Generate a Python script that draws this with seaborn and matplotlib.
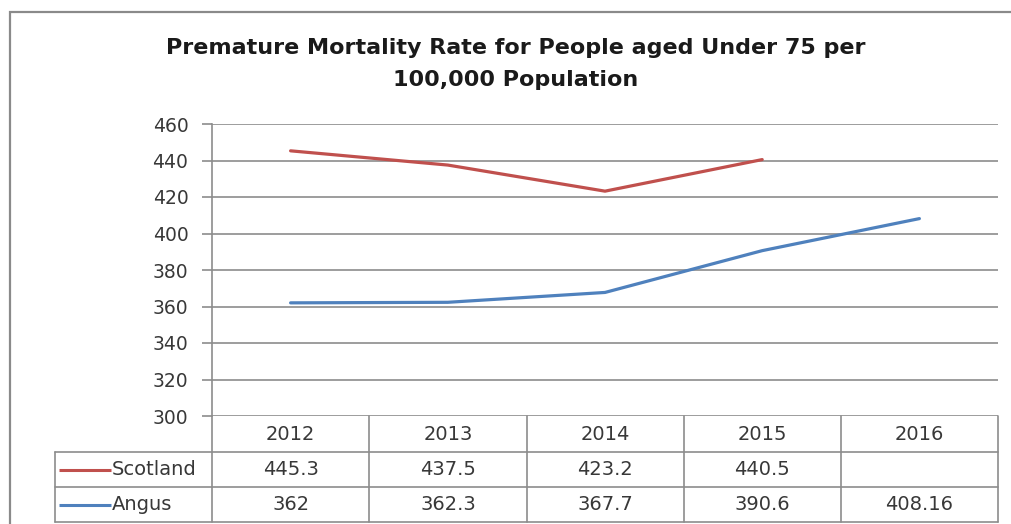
import numpy as np
import pandas as pd
import matplotlib
matplotlib.use("Agg")
import matplotlib.pyplot as plt
from matplotlib.patches import Rectangle
import seaborn as sns

# Data
years = ["2012", "2013", "2014", "2015", "2016"]
scotland = [445.3, 437.5, 423.2, 440.5, np.nan]
angus = [362, 362.3, 367.7, 390.6, 408.16]
scotland_labels = ["445.3", "437.5", "423.2", "440.5", ""]
angus_labels = ["362", "362.3", "367.7", "390.6", "408.16"]
series_names = ["Scotland", "Angus"]
series_colors = ["#C0504D", "#4F81BD"]
y_ticks = [300, 320, 340, 360, 380, 400, 420, 440, 460]
title = "Premature Mortality Rate for People aged Under 75 per\n100,000 Population"

sns.set_theme(style="white")
plt.rcParams["font.family"] = ["DejaVu Sans"]

W, H = 1011, 524
fig = plt.figure(figsize=(W / 100, H / 100), dpi=100)
fig.patch.set_facecolor("white")

def fx(px):
    return px / W

def fy(py):
    return 1 - py / H

grid_col = "#8C8C8C"
text_col = "#383838"

# Outer chart frame
fig.patches.append(Rectangle((fx(10), fy(600)), fx(1100), fy(12) - fy(600),
                             transform=fig.transFigure, fill=False,
                             edgecolor="#8A8A8A", linewidth=1.6, zorder=0))

# Plot area
left_px, right_px, top_px, bottom_px = 212, 998, 124, 416
ax = fig.add_axes([fx(left_px), fy(bottom_px), fx(right_px - left_px),
                   fy(top_px) - fy(bottom_px)])

long = pd.DataFrame({
    "x": list(range(len(years))) * 2,
    "value": scotland + angus,
    "series": [series_names[0]] * len(years) + [series_names[1]] * len(years),
})
sns.lineplot(data=long, x="x", y="value", hue="series",
             palette=dict(zip(series_names, series_colors)),
             linewidth=2.3, ax=ax, legend=False, zorder=3)

ax.set_xlim(-0.5, len(years) - 0.5)
ax.set_ylim(300, 460)
ax.set_yticks(y_ticks)
ax.set_yticklabels([str(t) for t in y_ticks], fontsize=13.5, color=text_col)
ax.set_xticks([])
ax.set_xlabel("")
ax.set_ylabel("")
ax.yaxis.grid(True, color=grid_col, linewidth=1.2)
ax.tick_params(axis="y", length=7, width=1.2, color=grid_col, pad=10, left=True)
for s in ["top", "right", "bottom"]:
    ax.spines[s].set_visible(False)
ax.spines["left"].set_color(grid_col)
ax.spines["left"].set_linewidth(1.2)
ax.set_facecolor("white")
ax.patch.set_alpha(0)

# Title
fig.text(fx(516), fy(64), title, ha="center", va="center", fontsize=16,
         fontweight="bold", color="#1A1A1A", linespacing=1.75)

# Data table below the plot area, sharing the category positions
tbl_left, tbl_bottom = 55, 522
row_edges = [416, 452, 487, 522]
tax = fig.add_axes([fx(tbl_left), fy(tbl_bottom), fx(right_px - tbl_left),
                    fy(row_edges[0]) - fy(tbl_bottom)])
tax.set_xlim(-1.5, len(years) - 0.5)
tax.set_ylim(row_edges[-1], row_edges[0])
tax.axis("off")

lw = 1.2
# horizontal rules
for r in row_edges[1:]:
    tax.plot([-1.5, len(years) - 0.5], [r, r], color=grid_col, lw=lw, clip_on=False)
# vertical rules
tax.plot([-1.5, -1.5], [row_edges[1], row_edges[-1]], color=grid_col, lw=lw, clip_on=False)
for i in range(len(years) + 1):
    xv = i - 0.5
    tax.plot([xv, xv], [row_edges[0], row_edges[-1]], color=grid_col, lw=lw, clip_on=False)

def row_mid(k):
    return (row_edges[k] + row_edges[k + 1]) / 2

fs = 14
for i, yr in enumerate(years):
    tax.text(i, row_mid(0), yr, ha="center", va="center", fontsize=fs, color=text_col)
    tax.text(i, row_mid(1), scotland_labels[i], ha="center", va="center", fontsize=fs, color=text_col)
    tax.text(i, row_mid(2), angus_labels[i], ha="center", va="center", fontsize=fs, color=text_col)

# Legend keys in the row headers
unit = 1 / (right_px - tbl_left) * 6  # categories per pixel
for k, (name, col) in enumerate(zip(series_names, series_colors)):
    ym = row_mid(k + 1)
    tax.plot([-1.5 + 4 * unit, -1.5 + 56 * unit], [ym, ym], color=col, lw=2.2,
             solid_capstyle="butt", clip_on=False)
    tax.text(-1.5 + 57 * unit, ym, name, ha="left", va="center", fontsize=fs, color=text_col)

fig.savefig("out.png", dpi=100, facecolor="white")
